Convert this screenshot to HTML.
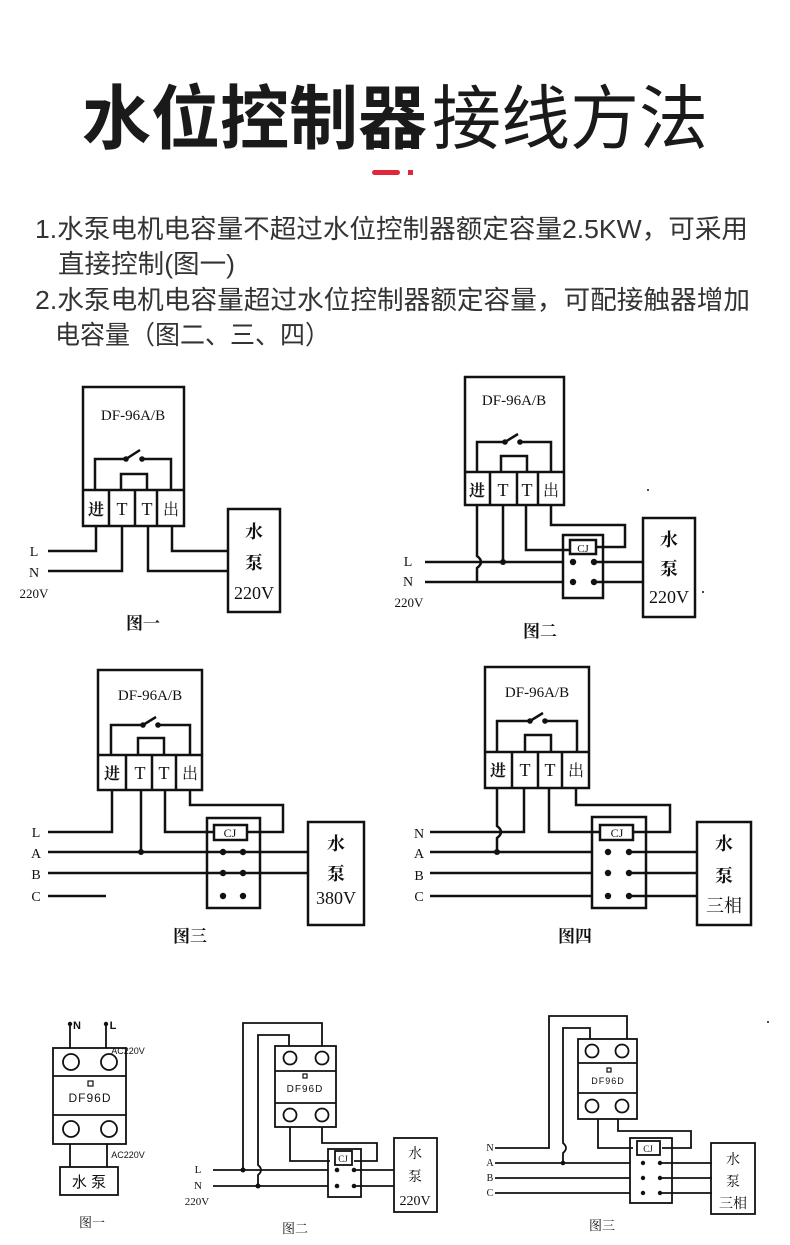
<!DOCTYPE html>
<html><head><meta charset="utf-8"><style>
html,body{margin:0;padding:0;background:#fff;}
svg{display:block;}
.t{font-family:"Liberation Serif","Noto Serif CJK SC",serif;fill:#111;}
.s{font-family:"Liberation Sans","Noto Sans CJK SC",sans-serif;}
</style></head><body>
<svg width="790" height="1245" viewBox="0 0 790 1245" xmlns="http://www.w3.org/2000/svg">
<rect width="790" height="1245" fill="#fff"/>
<!-- title -->
<text class="s" x="82" y="143" font-size="70" font-weight="bold" fill="#1a1a1a" textLength="345" lengthAdjust="spacingAndGlyphs">水位控制器</text>
<text class="s" x="432" y="143" font-size="70" fill="#1a1a1a" textLength="276" lengthAdjust="spacingAndGlyphs">接线方法</text>
<rect x="372" y="170" width="28" height="5" rx="2.5" fill="#e0283c"/>
<rect x="408" y="170" width="5" height="5" fill="#e0283c"/>
<!-- paragraph -->
<g class="s" font-size="26" fill="#333">
<text x="35" y="238" textLength="713" lengthAdjust="spacingAndGlyphs">1.水泵电机电容量不超过水位控制器额定容量2.5KW，可采用</text>
<text x="58" y="273" textLength="177" lengthAdjust="spacingAndGlyphs">直接控制(图一)</text>
<text x="35" y="309" textLength="715" lengthAdjust="spacingAndGlyphs">2.水泵电机电容量超过水位控制器额定容量，可配接触器增加</text>
<text x="55" y="344" textLength="275" lengthAdjust="spacingAndGlyphs">电容量（图二、三、四）</text>
</g>

<g stroke="#111" stroke-width="2.5" fill="none">
<!-- FIG 1 -->
<rect x="83" y="387" width="101" height="139"/>
<line x1="83" y1="490" x2="184" y2="490"/>
<path d="M109 490V526M135 490V526M157 490V526"/>
<path d="M95 490V459H126M142 459H171V490"/>
<path d="M126 459L140 450"/>
<path d="M121 490V474H147V490"/>
<path d="M96 526V551H48M122 526V571H48M148 526V571H228M172 526V551H228"/>
<rect x="228" y="509" width="52" height="103"/>

<!-- FIG 2 -->
<rect x="465" y="377" width="99" height="128"/>
<line x1="465" y1="472" x2="564" y2="472"/>
<path d="M490 472V505M517 472V505M538 472V505"/>
<path d="M477 472V442H505M520 442H551V472"/>
<path d="M505 442L518 434"/>
<path d="M501 472V456H527V472"/>
<path d="M477 505V556Q485 562 477 568V582"/>
<path d="M425 562H563M425 582H563M503 505V562M526 505V550H570M551 505V525H625V547H596"/>
<rect x="563" y="535" width="40" height="63"/>
<rect x="570" y="540" width="26" height="14"/>
<path d="M594 562H643M594 582H643"/>
<rect x="643" y="518" width="52" height="99"/>

<!-- FIG 3 -->
<rect x="98" y="670" width="104" height="120"/>
<line x1="98" y1="755" x2="202" y2="755"/>
<path d="M126 755V790M152 755V790M176 755V790"/>
<path d="M111 755V725H143M158 725H190V755"/>
<path d="M143 725L156 717"/>
<path d="M138 755V738H164V755"/>
<path d="M112 790V832H48M141 790V852M48 852H308M165 790V832H214M190 790V805H283V832H248M48 873H308M48 896H106"/>
<rect x="207" y="818" width="53" height="90"/>
<rect x="214" y="825" width="33" height="15"/>
<rect x="308" y="822" width="56" height="103"/>

<!-- FIG 4 -->
<rect x="485" y="667" width="104" height="121"/>
<line x1="485" y1="752" x2="589" y2="752"/>
<path d="M512 752V788M538 752V788M562 752V788"/>
<path d="M497 752V721H530M545 721H577V752"/>
<path d="M530 721L543 713"/>
<path d="M525 752V735H551V752"/>
<path d="M497 788V826Q505 832 497 838V852M524 788V832H430M549 788V832H600M576 788V805H670V832H634"/>
<path d="M430 852H592M430 873H592M430 896H592M629 852H697M629 873H697M629 896H697"/>
<rect x="592" y="817" width="54" height="91"/>
<rect x="600" y="825" width="33" height="15"/>
<rect x="697" y="822" width="54" height="103"/>
</g>

<g fill="#111">
<circle cx="126" cy="459" r="2.8"/><circle cx="142" cy="459" r="2.8"/>
<circle cx="505" cy="442" r="2.8"/><circle cx="520" cy="442" r="2.8"/>
<circle cx="503" cy="562" r="3"/>
<circle cx="573" cy="562" r="3.2"/><circle cx="594" cy="562" r="3.2"/>
<circle cx="573" cy="582" r="3.2"/><circle cx="594" cy="582" r="3.2"/>
<circle cx="143" cy="725" r="2.8"/><circle cx="158" cy="725" r="2.8"/>
<circle cx="141" cy="852" r="3"/>
<circle cx="223" cy="852" r="3.2"/><circle cx="243" cy="852" r="3.2"/>
<circle cx="223" cy="873" r="3.2"/><circle cx="243" cy="873" r="3.2"/>
<circle cx="223" cy="896" r="3.2"/><circle cx="243" cy="896" r="3.2"/>
<circle cx="530" cy="721" r="2.8"/><circle cx="545" cy="721" r="2.8"/>
<circle cx="497" cy="852" r="3"/>
<circle cx="608" cy="852" r="3.2"/><circle cx="629" cy="852" r="3.2"/>
<circle cx="608" cy="873" r="3.2"/><circle cx="629" cy="873" r="3.2"/>
<circle cx="608" cy="896" r="3.2"/><circle cx="629" cy="896" r="3.2"/>
<circle cx="648" cy="490" r="1"/><circle cx="703" cy="592" r="1"/><circle cx="768" cy="1022" r="1"/>
</g>

<g class="t" text-anchor="middle">
<!-- fig1 -->
<text x="133" y="420" font-size="15">DF-96A/B</text>
<text x="96" y="515" font-size="16" font-weight="bold">进</text><text x="122" y="515" font-size="18">T</text><text x="147" y="515" font-size="18">T</text><text x="171" y="515" font-size="16">出</text>
<text x="254" y="538" font-size="18" font-weight="bold">水</text><text x="254" y="569" font-size="18" font-weight="bold">泵</text><text x="254" y="599" font-size="18">220V</text>
<text x="34" y="556" font-size="14">L</text><text x="34" y="577" font-size="14">N</text><text x="34" y="598" font-size="13">220V</text>
<text x="143" y="629" font-size="17" font-weight="bold">图一</text>
<!-- fig2 -->
<text x="514" y="405" font-size="15">DF-96A/B</text>
<text x="477" y="496" font-size="16" font-weight="bold">进</text><text x="503" y="496" font-size="18">T</text><text x="527" y="496" font-size="18">T</text><text x="551" y="496" font-size="16">出</text>
<text x="583" y="552" font-size="11">CJ</text>
<text x="669" y="546" font-size="18" font-weight="bold">水</text><text x="669" y="575" font-size="18" font-weight="bold">泵</text><text x="669" y="603" font-size="18">220V</text>
<text x="408" y="566" font-size="14">L</text><text x="408" y="586" font-size="14">N</text><text x="409" y="607" font-size="13">220V</text>
<text x="540" y="637" font-size="17" font-weight="bold">图二</text>
<!-- fig3 -->
<text x="150" y="700" font-size="15">DF-96A/B</text>
<text x="112" y="779" font-size="16" font-weight="bold">进</text><text x="140" y="779" font-size="18">T</text><text x="164" y="779" font-size="18">T</text><text x="190" y="779" font-size="16">出</text>
<text x="230" y="837" font-size="12">CJ</text>
<text x="336" y="850" font-size="18" font-weight="bold">水</text><text x="336" y="880" font-size="18" font-weight="bold">泵</text><text x="336" y="904" font-size="18">380V</text>
<text x="36" y="837" font-size="14">L</text><text x="36" y="858" font-size="14">A</text><text x="36" y="879" font-size="14">B</text><text x="36" y="901" font-size="14">C</text>
<text x="190" y="942" font-size="17" font-weight="bold">图三</text>
<!-- fig4 -->
<text x="537" y="697" font-size="15">DF-96A/B</text>
<text x="498" y="776" font-size="16" font-weight="bold">进</text><text x="525" y="776" font-size="18">T</text><text x="550" y="776" font-size="18">T</text><text x="576" y="776" font-size="16">出</text>
<text x="617" y="837" font-size="12">CJ</text>
<text x="724" y="850" font-size="18" font-weight="bold">水</text><text x="724" y="882" font-size="18" font-weight="bold">泵</text><text x="724" y="912" font-size="18">三相</text>
<text x="419" y="838" font-size="14">N</text><text x="419" y="858" font-size="14">A</text><text x="419" y="880" font-size="14">B</text><text x="419" y="901" font-size="14">C</text>
<text x="575" y="942" font-size="17" font-weight="bold">图四</text>
</g>

<!-- BOTTOM ROW -->
<g stroke="#111" stroke-width="1.8" fill="none">
<!-- b1 -->
<path d="M70 1024V1048M106 1024V1048"/>
<rect x="53" y="1048" width="73" height="96"/>
<path d="M53 1076H126M53 1115H126"/>
<circle cx="71" cy="1062" r="8"/><circle cx="109" cy="1062" r="8"/>
<circle cx="71" cy="1129" r="8"/><circle cx="109" cy="1129" r="8"/>
<rect x="88" y="1081" width="5" height="5" stroke-width="1.2"/>
<path d="M70 1144V1167M107 1144V1167"/>
<rect x="60" y="1167" width="58" height="28"/>
<!-- b2 -->
<rect x="275" y="1046" width="61" height="81"/>
<path d="M275 1071H336M275 1103H336"/>
<circle cx="290" cy="1058" r="6.5"/><circle cx="322" cy="1058" r="6.5"/>
<circle cx="290" cy="1115" r="6.5"/><circle cx="322" cy="1115" r="6.5"/>
<rect x="303" y="1074" width="4" height="4" stroke-width="1.2"/>
<path d="M243 1170V1023H322V1046M258 1186V1175Q264 1170 258 1165V1035H289V1046"/>
<path d="M290 1127V1161H330M322 1127V1143H377V1161H354"/>
<rect x="328" y="1149" width="33" height="48"/>
<rect x="335" y="1151" width="17" height="14"/>
<path d="M213 1170H328M213 1186H328M354 1170H394M354 1186H394"/>
<rect x="394" y="1138" width="43" height="74"/>
<!-- b3 -->
<rect x="578" y="1039" width="59" height="80"/>
<path d="M578 1063H637M578 1093H637"/>
<circle cx="592" cy="1051" r="6.5"/><circle cx="622" cy="1051" r="6.5"/>
<circle cx="592" cy="1106" r="6.5"/><circle cx="622" cy="1106" r="6.5"/>
<rect x="607" y="1068" width="4" height="4" stroke-width="1.2"/>
<path d="M495 1148H549V1016H627V1039M563 1163V1153Q569 1148 563 1143V1028H590V1039"/>
<path d="M598 1119V1148H633M618 1119V1131H691V1148H662"/>
<rect x="630" y="1138" width="42" height="65"/>
<rect x="637" y="1141" width="23" height="14"/>
<path d="M495 1163H630M495 1178H630M495 1193H630M660 1163H712M660 1178H712M660 1193H712"/>
<rect x="711" y="1143" width="44" height="71"/>
</g>
<g fill="#111">
<circle cx="70" cy="1024" r="2.2"/><circle cx="106" cy="1024" r="2.2"/>
<circle cx="243" cy="1170" r="2.5"/><circle cx="258" cy="1186" r="2.5"/>
<circle cx="337" cy="1170" r="2.3"/><circle cx="354" cy="1170" r="2.3"/>
<circle cx="337" cy="1186" r="2.3"/><circle cx="354" cy="1186" r="2.3"/>
<circle cx="563" cy="1163" r="2.3"/>
<circle cx="643" cy="1163" r="2.2"/><circle cx="660" cy="1163" r="2.2"/>
<circle cx="643" cy="1178" r="2.2"/><circle cx="660" cy="1178" r="2.2"/>
<circle cx="643" cy="1193" r="2.2"/><circle cx="660" cy="1193" r="2.2"/>
</g>
<g class="t" text-anchor="middle">
<text x="77" y="1029" font-size="11" class="s" font-weight="bold">N</text>
<text x="113" y="1029" font-size="11" class="s" font-weight="bold">L</text>
<text x="128" y="1054" font-size="9" class="s">AC220V</text>
<text x="90" y="1102" font-size="12" class="s" letter-spacing="1">DF96D</text>
<text x="128" y="1158" font-size="9" class="s">AC220V</text>
<text x="89" y="1187" font-size="15" class="s">水 泵</text>
<text x="92" y="1227" font-size="13">图一</text>
<text x="305" y="1092" font-size="10" class="s" letter-spacing="1">DF96D</text>
<text x="343" y="1162" font-size="9">CJ</text>
<text x="415" y="1158" font-size="14">水</text><text x="415" y="1181" font-size="14">泵</text><text x="415" y="1205" font-size="14">220V</text>
<text x="198" y="1173" font-size="11">L</text><text x="198" y="1189" font-size="11">N</text><text x="197" y="1205" font-size="11">220V</text>
<text x="295" y="1233" font-size="13">图二</text>
<text x="608" y="1084" font-size="9" class="s" letter-spacing="1">DF96D</text>
<text x="648" y="1152" font-size="9">CJ</text>
<text x="733" y="1164" font-size="14">水</text><text x="733" y="1186" font-size="14">泵</text><text x="733" y="1208" font-size="14">三相</text>
<text x="490" y="1151" font-size="10">N</text><text x="490" y="1166" font-size="10">A</text><text x="490" y="1181" font-size="10">B</text><text x="490" y="1196" font-size="10">C</text>
<text x="602" y="1230" font-size="13">图三</text>
</g>
</svg>
</body></html>
